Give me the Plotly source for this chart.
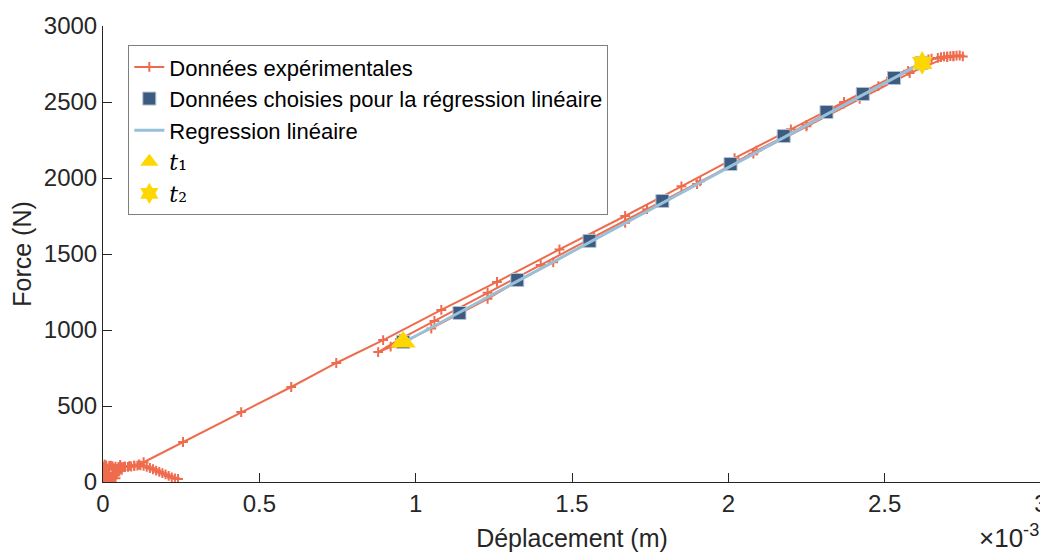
import plotly.graph_objects as go

# displacement in units of 1e-3 m, force in N
exp_x = [0.24, 0.23, 0.22, 0.21, 0.2, 0.19, 0.18, 0.17, 0.16, 0.15, 0.14, 0.13, 0.12, 0.11,
         0.10, 0.09, 0.08, 0.07, 0.06, 0.05, 0.04, 0.03, 0.02, 0.01, 0.0,
         0.005, 0.02, 0.01, 0.0, 0.025, 0.04, 0.015, 0.0, 0.01, 0.035, 0.05,
         0.03, 0.005, 0.02, 0.045, 0.06, 0.04, 0.015, 0.0, 0.03, 0.055, 0.065, 0.045, 0.02,
         0.005, 0.025, 0.05, 0.07, 0.085, 0.1, 0.115, 0.13,
         0.256, 0.442, 0.602, 0.746, 0.896, 1.082, 1.26, 1.46, 1.67, 1.85, 2.02, 2.2, 2.37,
         2.52, 2.64, 2.67, 2.69, 2.71, 2.73, 2.75, 2.74, 2.72, 2.70,
         2.58, 2.42, 2.25, 2.08, 1.91, 1.74, 1.57, 1.40, 1.23, 1.06, 0.95, 0.88,
         0.92, 0.96, 1.05, 1.14, 1.23, 1.325, 1.44, 1.556, 1.67, 1.789, 1.90, 2.007, 2.09,
         2.177, 2.25, 2.314, 2.37, 2.43, 2.48, 2.53, 2.575, 2.618, 2.65, 2.68, 2.70, 2.72]
exp_f = [20, 24, 30, 40, 50, 58, 66, 75, 84, 92, 100, 106, 110, 108,
         104, 102, 100, 98, 97, 99, 101, 104, 106, 103, 100,
         80, 60, 40, 15, 5, 25, 55, 85, 110, 90, 70,
         35, 10, 30, 60, 80, 45, 20, 65, 95, 112, 100, 75, 50,
         115, 108, 96, 102, 106, 110, 115, 130,
         263, 460, 625, 783, 934, 1132, 1316, 1530, 1750, 1945, 2130, 2320, 2500,
         2660, 2780, 2790, 2798, 2802, 2805, 2800, 2806, 2800, 2795,
         2690, 2520, 2340, 2160, 1978, 1795, 1612, 1428, 1245, 1060, 940, 855,
         890, 921, 1010, 1105, 1205, 1320, 1445, 1578, 1705, 1840, 1960, 2085, 2180,
         2270, 2350, 2425, 2490, 2550, 2605, 2655, 2705, 2752, 2785, 2795, 2800, 2803]

reg_x = [0.96, 1.14, 1.325, 1.556, 1.789, 2.007, 2.177, 2.314, 2.43, 2.53, 2.618]
reg_f = [921, 1112, 1329, 1586, 1849, 2092, 2276, 2434, 2553, 2658, 2757]

fit_x = [0.96, 2.62]
fit_f = [916, 2757]

t1 = (0.96, 921)
t2 = (2.62, 2757)

orange = '#EE6C4D'
dark_blue = '#3D5A80'
light_blue = '#98C1D9'
gold = '#FFD700'
font = 'Liberation Sans, Arial, sans-serif'
serif = "<span style='font-family:DejaVu Serif'>"

fig = go.Figure()
fig.add_trace(go.Scatter(x=exp_x, y=exp_f, mode='lines+markers', name='Données expérimentales',
                         line=dict(color=orange, width=2),
                         marker=dict(symbol='cross-thin', size=7, line=dict(color=orange, width=2))))
fig.add_trace(go.Scatter(x=reg_x, y=reg_f, mode='markers',
                         name='Données choisies pour la régression linéaire',
                         marker=dict(symbol='square', size=13, color=dark_blue,
                                     line=dict(color='#b4c3d3', width=1))))
fig.add_trace(go.Scatter(x=fit_x, y=fit_f, mode='lines', name='Regression linéaire',
                         line=dict(color=light_blue, width=3)))
fig.add_trace(go.Scatter(x=[t1[0]], y=[t1[1]], mode='markers',
                         name=serif + '<i>t</i>₁</span>',
                         marker=dict(symbol='triangle-up', size=22, color=gold)))
fig.add_trace(go.Scatter(x=[t2[0]], y=[t2[1]], mode='markers',
                         name=serif + '<i>t</i>₂</span>',
                         marker=dict(symbol='hexagram', size=18, color=gold)))

# the page body adds 8px around the plot div, so the figure is 8px smaller than the window
fig.update_layout(
    width=1040, height=544,
    margin=dict(l=95, r=7, t=18, b=70),
    paper_bgcolor='white', plot_bgcolor='white',
    font=dict(family=font, size=24, color='#262626'),
    showlegend=True,
    legend=dict(x=0.027, y=0.958, xanchor='left', yanchor='top',
                bgcolor='white', bordercolor='#7f7f7f', borderwidth=1,
                font=dict(size=22, color='black'), tracegroupgap=0, itemwidth=30),
    annotations=[dict(text='×10<sup>-3</sup>', xref='paper', yref='paper', x=1.0, y=-0.12,
                      xanchor='right', yanchor='middle', showarrow=False,
                      font=dict(size=26, color='#262626'))]
)
fig.update_xaxes(range=[0, 3], dtick=0.5, showline=True, linecolor='#262626', linewidth=1,
                 ticks='inside', ticklen=9, tickcolor='#262626', showgrid=False, zeroline=False,
                 automargin=False, title=dict(text='Déplacement (m)', font=dict(size=25)))
fig.update_yaxes(range=[0, 3000], dtick=500, showline=True, linecolor='#262626', linewidth=1,
                 ticks='inside', ticklen=9, tickcolor='#262626', showgrid=False, zeroline=False,
                 automargin=False, title=dict(text='Force (N)', font=dict(size=25)))

fig.write_html('out.html')
